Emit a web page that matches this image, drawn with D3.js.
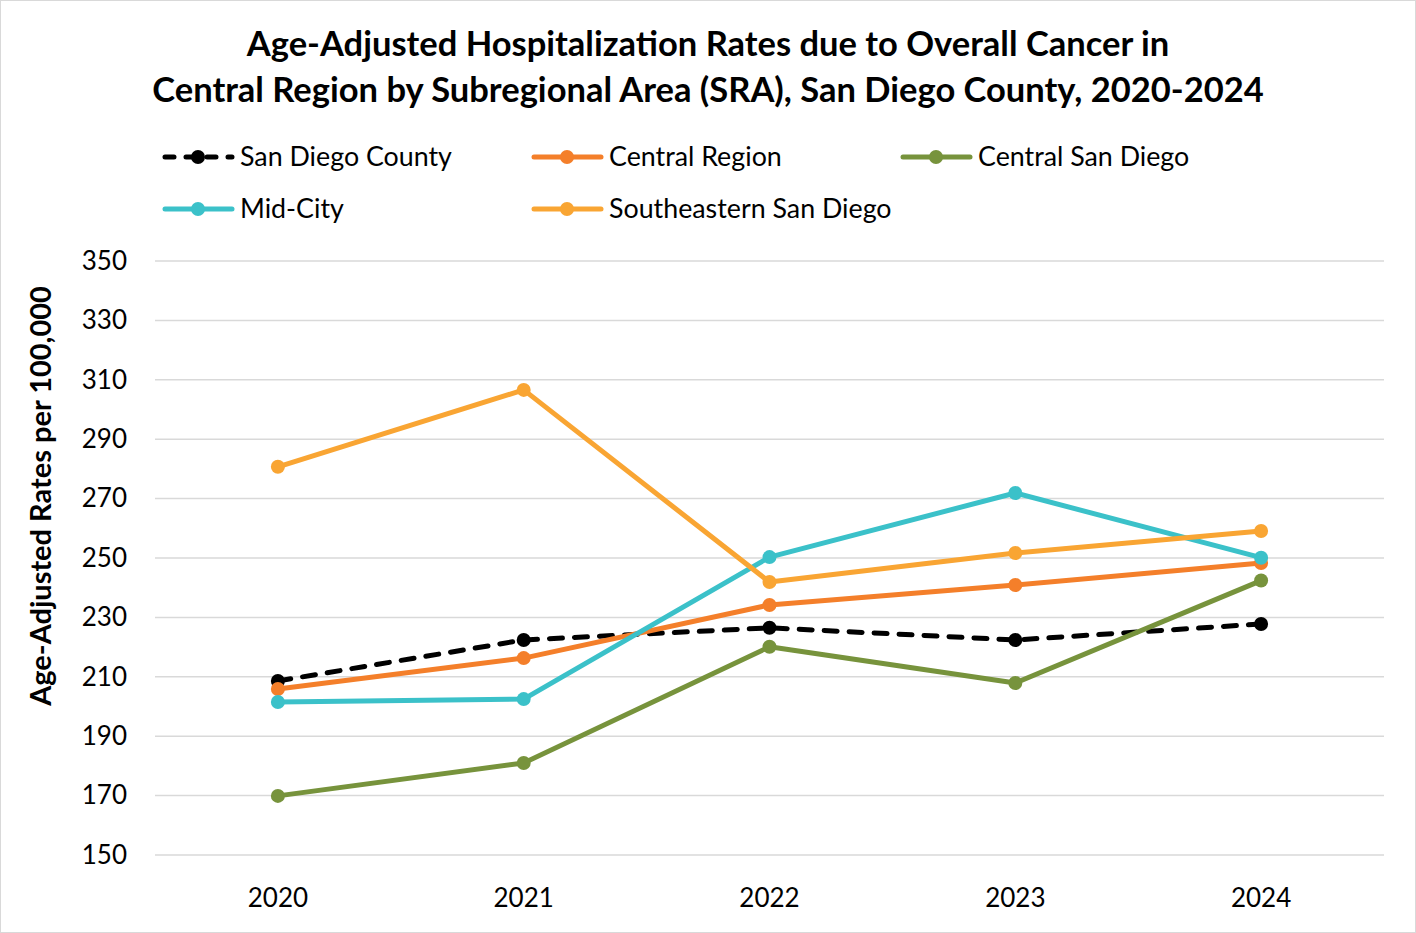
<!DOCTYPE html>
<html>
<head>
<meta charset="utf-8">
<script src="https://cdn.jsdelivr.net/npm/d3@7"></script>
<style>
  body { margin: 0; background: #fff; }
  text { font-family: Lato, "Open Sans", sans-serif; }
</style>
</head>
<body>
<div id="chart"></div>
<script>
// data
var years = ["2020", "2021", "2022", "2023", "2024"];
var yTicks = [150, 170, 190, 210, 230, 250, 270, 290, 310, 330, 350];
var seriesNames = ["San Diego County", "Central Region", "Central San Diego", "Mid-City", "Southeastern San Diego"];
var sanDiegoCounty = [208.6, 222.4, 226.5, 222.4, 227.8];
var centralRegion = [205.9, 216.3, 234.2, 240.9, 248.3];
var centralSanDiego = [169.9, 181.0, 220.1, 207.9, 242.4];
var midCity = [201.5, 202.5, 250.3, 271.9, 250.1];
var southeastern = [280.7, 306.6, 241.9, 251.7, 259.1];

var colors = ["#000000", "#F47F2A", "#77933C", "#3BC1C9", "#F9A533"];
var allValues = [sanDiegoCounty, centralRegion, centralSanDiego, midCity, southeastern];

var W = 1416, H = 933;
var svg = d3.select("#chart").append("svg").attr("width", W).attr("height", H);

svg.append("rect").attr("x", 0.5).attr("y", 0.5).attr("width", W - 1).attr("height", H - 1)
	.attr("fill", "white").attr("stroke", "#d9d9d9");

// title
svg.append("text").attr("x", 708).attr("y", 56).attr("text-anchor", "middle")
	.attr("font-size", "34.5px").attr("font-weight", "bold").text("Age-Adjusted Hospitalization Rates due to Overall Cancer in");
svg.append("text").attr("x", 708).attr("y", 102).attr("text-anchor", "middle")
	.attr("font-size", "34.5px").attr("font-weight", "bold").text("Central Region by Subregional Area (SRA), San Diego County, 2020-2024");

var pLeft = 155, pRight = 1384, pTop = 261, pBottom = 855;
var x = d3.scaleBand().domain(years).range([pLeft, pRight]);
var y = d3.scaleLinear().domain([150, 350]).range([pBottom, pTop]);

// gridlines
svg.append("g").selectAll("line").data(yTicks).join("line")
	.attr("x1", pLeft).attr("x2", pRight)
	.attr("y1", function(d){ return y(d); }).attr("y2", function(d){ return y(d); })
	.attr("stroke", "#d9d9d9").attr("stroke-width", 1.5);

// y axis labels
var yAxis = svg.append("g").attr("transform", "translate(" + (pLeft - 16) + ",0)")
	.call(d3.axisLeft(y).tickValues(yTicks).tickSize(0).tickPadding(12));
yAxis.select(".domain").remove();
yAxis.selectAll("text").attr("font-size", "26px").attr("fill", "#000")
	.style("font-family", "Lato, sans-serif");

// x axis labels
var xAxis = svg.append("g").attr("transform", "translate(0," + pBottom + ")")
	.call(d3.axisBottom(x).tickSize(0).tickPadding(34));
xAxis.select(".domain").remove();
xAxis.selectAll("text").attr("font-size", "26px").attr("fill", "#000")
	.style("font-family", "Lato, sans-serif");

// y axis title
svg.append("text").attr("transform", "translate(51,496) rotate(-90)").attr("text-anchor", "middle")
	.attr("font-size", "29px").attr("font-weight", "bold").text("Age-Adjusted Rates per 100,000");

// lines
var line = d3.line().x(function(d, i){ return x(years[i]) + x.bandwidth() / 2; }).y(function(d){ return y(d); });
allValues.forEach(function(vals, k){
	var g = svg.append("g");
	g.append("path").attr("d", line(vals)).attr("fill", "none")
		.attr("stroke", colors[k]).attr("stroke-width", 5)
		.attr("stroke-linejoin", "round")
		.attr("stroke-linecap", k == 0 ? "round" : "butt")
		.attr("stroke-dasharray", k == 0 ? "13,12" : null);
	g.selectAll("circle").data(vals).join("circle")
		.attr("cx", function(d, i){ return x(years[i]) + x.bandwidth() / 2; })
		.attr("cy", function(d){ return y(d); })
		.attr("r", 7).attr("fill", colors[k]);
});

// legend
var legX = [162, 531, 900], legY = [157, 209];
seriesNames.forEach(function(name, k){
	var lx = legX[k % 3], ly = legY[Math.floor(k / 3)];
	var g = svg.append("g");
	g.append("line").attr("x1", lx + 3).attr("x2", lx + 70).attr("y1", ly).attr("y2", ly)
		.attr("stroke", colors[k]).attr("stroke-width", 5).attr("stroke-linecap", "round")
		.attr("stroke-dasharray", k == 0 ? "9,12" : null);
	g.append("circle").attr("cx", lx + 36).attr("cy", ly).attr("r", 7).attr("fill", colors[k]);
	g.append("text").attr("x", lx + 78).attr("y", ly + 9).attr("font-size", "26.8px").text(name);
});
</script>
</body>
</html>
